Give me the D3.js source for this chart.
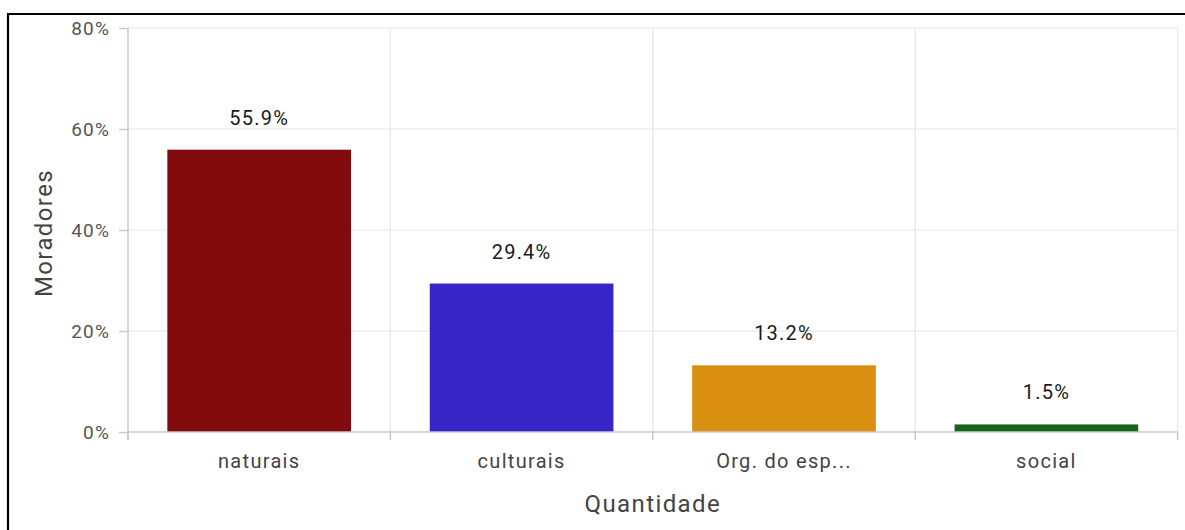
<!DOCTYPE html>
<html><head><meta charset="utf-8">
<script src="https://cdn.jsdelivr.net/npm/d3@7"></script>
<style>body{margin:0;background:#fff;}svg{display:block;font-family:Roboto,sans-serif;}</style>
</head><body>
<svg id="c" width="1185" height="530"></svg>
<script>
const categories = ["naturais", "culturais", "Org. do esp...", "social"];
const values = [55.9, 29.4, 13.2, 1.5];
const colors = ["#800a0c", "#3725c6", "#d98f10", "#15661a"];
const yTicks = [0, 20, 40, 60, 80];
const yTitle = "Moradores";
const xTitle = "Quantidade";

const svg = d3.select("#c");
const m = {l:128, r:1177.6, t:28, b:432};

// outer frame
svg.append("line").attr("x1",7).attr("x2",1185).attr("y1",14).attr("y2",14).attr("stroke","#000").attr("stroke-width",2.2);
svg.append("line").attr("x1",8).attr("x2",8).attr("y1",13).attr("y2",530).attr("stroke","#000").attr("stroke-width",2.2);

const x = d3.scaleBand().domain(categories).range([m.l, m.r]).paddingInner(0.3).paddingOuter(0.15);
const y = d3.scaleLinear().domain([0, 80]).range([m.b, m.t]);
const step = x.step();

// horizontal grid
svg.append("g").selectAll("line").data(yTicks.filter(d=>d>0)).join("line")
  .attr("x1", m.l).attr("x2", m.r).attr("y1", d=>y(d)).attr("y2", d=>y(d))
  .attr("stroke","#e6e6ec").attr("stroke-width",1.2);
// vertical grid at band boundaries
svg.append("g").selectAll("line").data(categories).join("line")
  .attr("x1", d=>x(d)-x.paddingOuter()*step + step).attr("x2", d=>x(d)-x.paddingOuter()*step + step)
  .attr("y1", m.t).attr("y2", m.b)
  .attr("stroke","#e6e6ec").attr("stroke-width",1.2);

// bars
svg.append("g").selectAll("rect").data(values).join("rect")
  .attr("x", (d,i)=>x(categories[i])).attr("width", x.bandwidth())
  .attr("y", d=>y(d)).attr("height", d=>y(0)-y(d))
  .attr("fill", (d,i)=>colors[i]);

// value labels
svg.append("g").selectAll("text").data(values).join("text")
  .attr("x", (d,i)=>x(categories[i])+x.bandwidth()/2).attr("y", d=>y(d)-25)
  .attr("text-anchor","middle").attr("font-size",20).attr("letter-spacing",1.2).attr("fill","#1a1a1a")
  .text(d=>d.toFixed(1)+"%");

// y axis
const yAxis = svg.append("g").attr("transform",`translate(${m.l},0)`)
  .call(d3.axisLeft(y).tickValues(yTicks).tickFormat(d=>d+"%").tickSize(9).tickPadding(9));
yAxis.select(".domain").attr("stroke","#c8c8d2").attr("stroke-width",1.5).attr("d",`M0,${m.t}V${m.b+8}`);
yAxis.selectAll(".tick line").attr("stroke","#c8c8d2").attr("stroke-width",1.5);
yAxis.selectAll(".tick text").attr("font-size",19).attr("letter-spacing",1.2).attr("fill","#555").attr("font-family","Roboto").attr("dy","0.36em");

// x axis
const xAxis = svg.append("g").attr("transform",`translate(0,${m.b})`)
  .call(d3.axisBottom(x).tickSize(0).tickPadding(0));
xAxis.select(".domain").attr("stroke","#c8c8d2").attr("stroke-width",1.5).attr("d",`M${m.l},0H${m.r}`);
xAxis.selectAll(".tick text").attr("font-size",20).attr("letter-spacing",1.3).attr("fill","#444")
  .attr("font-family","Roboto").attr("y",36).attr("dy",0);
// boundary ticks
svg.append("g").selectAll("line").data(d3.range(categories.length+1)).join("line")
  .attr("x1", i=>m.l+i*step).attr("x2", i=>m.l+i*step)
  .attr("y1", m.b).attr("y2", m.b+8).attr("stroke","#c8c8d2").attr("stroke-width",1.5);

// titles
svg.append("text").attr("transform","translate(52,233) rotate(-90)").attr("text-anchor","middle")
  .attr("font-size",24).attr("letter-spacing",1.4).attr("fill","#444").text(yTitle);
svg.append("text").attr("x", (m.l+m.r)/2).attr("y", 512).attr("text-anchor","middle")
  .attr("font-size",24).attr("letter-spacing",1.4).attr("fill","#444").text(xTitle);
</script>
</body></html>
